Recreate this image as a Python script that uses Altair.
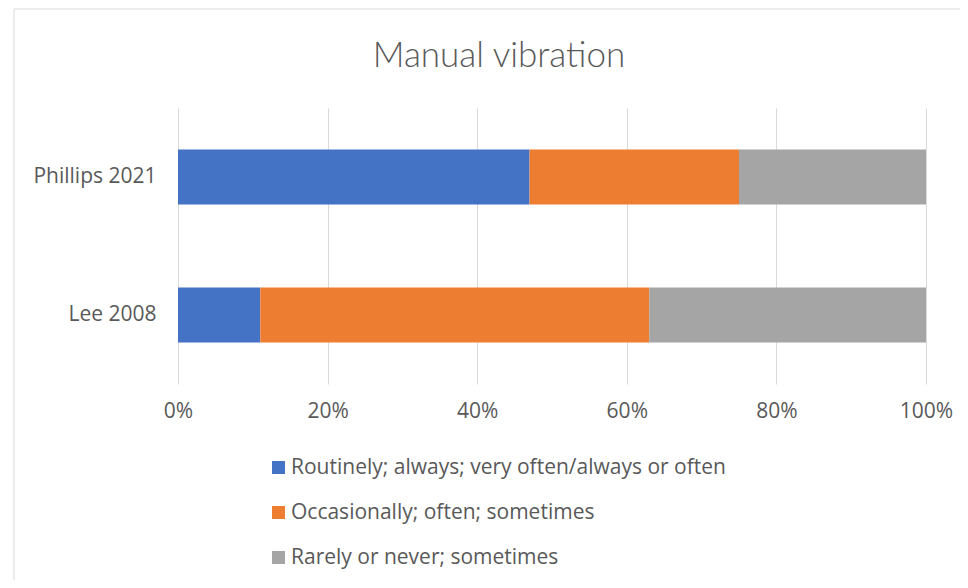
import altair as alt
import pandas as pd

studies = ["Phillips 2021", "Lee 2008"]
categories = [
    "Routinely; always; very often/always or often",
    "Occasionally; often; sometimes",
    "Rarely or never; sometimes",
]
colors = ["#4472C4", "#ED7D31", "#A5A5A5"]
values_phillips = [0.47, 0.28, 0.25]
values_lee = [0.11, 0.52, 0.37]
x_ticks = [0, 0.2, 0.4, 0.6, 0.8, 1.0]
title_text = "Manual vibration"

rows = []
for study, vals in zip(studies, [values_phillips, values_lee]):
    for i, (cat, v) in enumerate(zip(categories, vals)):
        rows.append({"study": study, "category": cat, "value": v, "order": i})
df = pd.DataFrame(rows)

FONT = "Open Sans"
TXT = "#595959"
FS = 21

bars = alt.Chart(df).mark_bar().encode(
    x=alt.X("value:Q", stack="zero",
            scale=alt.Scale(domain=[0, 1], nice=False),
            axis=alt.Axis(values=x_ticks, format=".0%", title=None, domain=False,
                          ticks=False, grid=True, gridColor="#D9D9D9", gridWidth=1,
                          labelFlush=False,
                          labelFont=FONT, labelFontSize=FS, labelColor=TXT,
                          labelPadding=16)),
    y=alt.Y("study:N", sort=studies,
            scale=alt.Scale(paddingInner=0.6, paddingOuter=0.3),
            axis=alt.Axis(title=None, domain=False, ticks=False, grid=False,
                          labelFont=FONT, labelFontSize=FS, labelColor=TXT,
                          labelPadding=22)),
    color=alt.Color("category:N", sort=categories,
                    scale=alt.Scale(domain=categories, range=colors),
                    legend=alt.Legend(title=None, orient="none", legendX=90, legendY=349,
                                      direction="vertical", symbolType="square",
                                      symbolSize=169, symbolStrokeWidth=0,
                                      labelFont=FONT, labelFontSize=FS, labelColor=TXT,
                                      labelOffset=2, rowPadding=23, labelLimit=800)),
    order=alt.Order("order:Q"),
)

border = alt.Chart(pd.DataFrame({"a": [0]})).mark_rect(
    fill=None, stroke="#D9D9D9", strokeWidth=1
).encode(
    x=alt.value(-164), x2=alt.value(900), y=alt.value(-99), y2=alt.value(600)
)

title = alt.Chart(pd.DataFrame({"t": [title_text]})).mark_text(
    font="Lato", fontSize=35, fontWeight=300, color=TXT, align="center", baseline="middle"
).encode(
    text="t:N", x=alt.value(321), y=alt.value(-52)
)

chart = alt.layer(border, bars, title).properties(
    width=748, height=276,
    padding={"left": 170, "top": 100, "right": 34, "bottom": 196},
    autosize=alt.AutoSizeParams(type="none"),
).configure_view(stroke=None)

chart.save("out.html", embed_options={"renderer": "svg", "actions": False})
